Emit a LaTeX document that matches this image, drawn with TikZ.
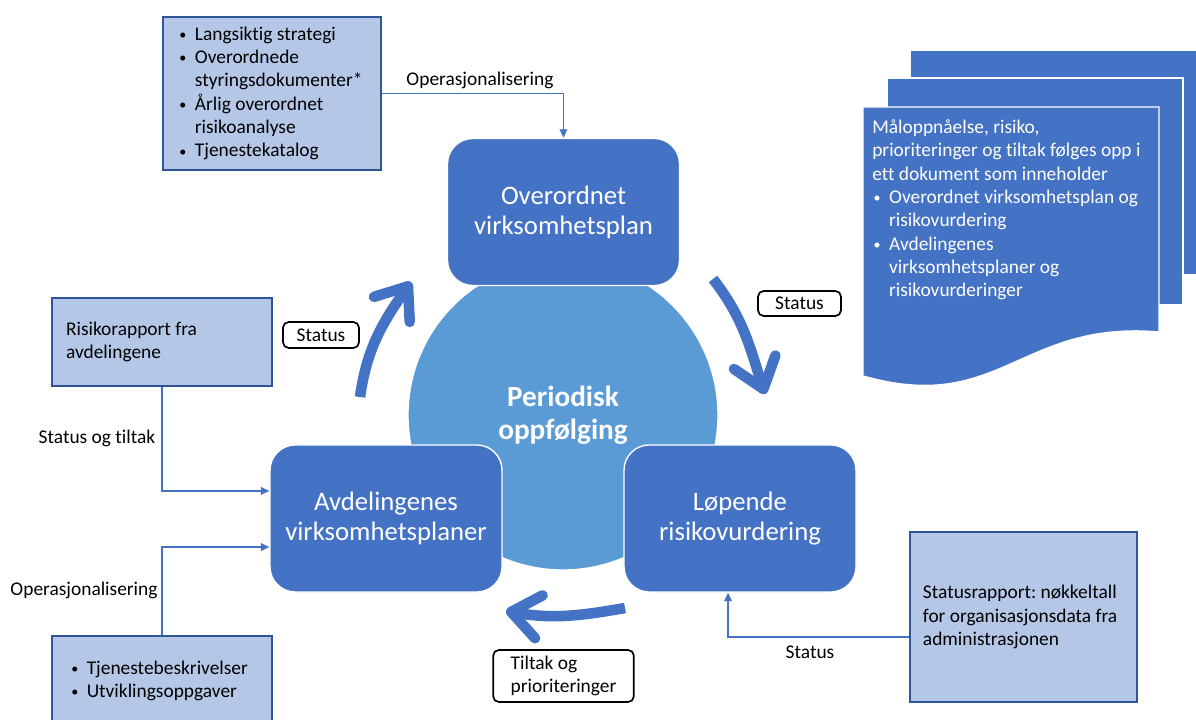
\documentclass[tikz,border=0pt]{standalone}
\usepackage{fontspec}
\setmainfont{Carlito}[Ligatures=NoCommon]
\usetikzlibrary{arrows.meta}
\definecolor{planblue}{HTML}{4472C4}
\definecolor{hubblue}{HTML}{5B9BD5}
\definecolor{notefill}{HTML}{B4C7E7}
\definecolor{noteedge}{HTML}{2F5597}
\frenchspacing
\newcommand{\bul}{\makebox[12pt][l]{\hspace{1pt}\raisebox{0.6pt}{\fontsize{10}{10}\selectfont\textbullet}}}
\newcommand{\ind}{\hspace*{12pt}}
\newcommand{\smalltxt}{\fontsize{13.8}{16.6}\selectfont}
\newcommand{\bigtxt}{\fontsize{19}{21.3}\selectfont}
\tikzset{
    notebox/.style={draw=noteedge,line width=1.4pt,fill=notefill,font=\smalltxt,align=flush left},
    planbox/.style={rounded corners=18pt,fill=planblue,draw=white,line width=1pt,text=white,
        minimum width=165pt,minimum height=104.6pt,align=center,font=\bigtxt},
    tagbox/.style={draw=black,rounded corners=4pt,line width=1.2pt,fill=white,font=\smalltxt,align=left},
    lbl/.style={font=\smalltxt},
    link/.style={draw=planblue,line width=0.8pt,-{Triangle[length=6pt,width=5.5pt]}},
    cyclearrow/.style={draw=planblue,line width=7.5pt,-{Straight Barb[round,length=20pt,width=31pt]}},
    docpage/.style={fill=planblue,draw=white,line width=1pt}
}
\begin{document}
\begin{tikzpicture}[x=0.025cm,y=-0.025cm]
                    \clip (0,0) rectangle (1196,720);
                    \fill[white] (0,0) rectangle (1196,720);

                    \node[circle,fill=hubblue,draw=white,line width=1pt,minimum size=220.5pt,
                        text=white,align=center,font=\fontsize{20.8}{23.5}\selectfont\bfseries]
                        (hub) at (563,415) {Periodisk\\oppfølging};

                    \node[planbox] (plan) at (563.5,212) {Overordnet\\virksomhetsplan};
                    \node[planbox] (avd) at (386,518.5) {Avdelingenes\\virksomhetsplaner};
                    \node[planbox] (risk) at (740,518.5) {Løpende\\risikovurdering};

                    \node[notebox,text width=133.6pt,inner xsep=10.7pt,minimum height=108.8pt]
                        (strat) at (272,93.5) {\bul Langsiktig strategi\\\bul Overordnede\\\ind styringsdokumenter*\\\bul Årlig overordnet\\\ind risikoanalyse\\\bul Tjenestekatalog};
                    \node[notebox,text width=136.5pt,inner xsep=10pt,minimum height=62.6pt]
                        (report) at (162,342) {Risikorapport fra\\avdelingene};
                    \node[notebox,text width=131pt,inner xsep=12.8pt,minimum height=64pt]
                        (tasks) at (162,681) {\bul Tjenestebeskrivelser\\\bul Utviklingsoppgaver};
                    \node[notebox,text width=143pt,inner xsep=9.2pt,minimum height=121pt]
                        (figures) at (1023.5,617) {Statusrapport: nøkkeltall\\for organisasjonsdata fra\\administrasjonen};

                    \filldraw[docpage] (910,50) rectangle (1200,275);
                    \filldraw[docpage] (887,78) rectangle (1183,305);
                    \filldraw[docpage] (863,107) -- (1159,107) -- (1159,332)
                        .. controls (1020,320) and (1000,415) .. (863,376) -- cycle;
                    \node[anchor=west,text width=205pt,inner sep=0pt,text=white,font=\smalltxt,align=flush left]
                        (doc) at (872,210) {Måloppnåelse, risiko,\\prioriteringer og tiltak følges opp i\\ett dokument som inneholder\\\bul Overordnet virksomhetsplan og\\\ind risikovurdering\\\bul Avdelingenes\\\ind virksomhetsplaner og\\\ind risikovurderinger};

                    \node[tagbox,minimum width=54pt,minimum height=18.5pt,align=center] (st1) at (321,335) {Status};
                    \node[tagbox,minimum width=59pt,minimum height=17.8pt,align=center] (st2) at (799.5,303.5) {Status};
                    \node[tagbox,minimum width=100pt,minimum height=37pt] (prio) at (563.5,676) {Tiltak og\\prioriteringer};

                    \node[lbl] (op1) at (480,80) {Operasjonalisering};
                    \node[lbl] (stt) at (97,438) {Status og tiltak};
                    \node[lbl] (op2) at (84,590) {Operasjonalisering};
                    \node[lbl] (st3) at (810,652) {Status};

                    \draw[link] (strat.east) -| (plan.north);
                    \draw[link] (report.south) |- ([yshift=19.6pt]avd.west);
                    \draw[link] (tasks.north) |- ([yshift=-20.3pt]avd.west);
                    \draw[link] ([yshift=-14.2pt]figures.west) -| ([xshift=-8.5pt]risk.south);

                    \coordinate (up0) at (360,397);
                    \coordinate (up1) at (411,282);
                    \coordinate (down0) at (713,279);
                    \coordinate (down1) at (765,394);
                    \coordinate (back0) at (625,608);
                    \coordinate (back1) at (506,611);
                    \draw[cyclearrow] (up0) to[out=82,in=235] (up1);
                    \draw[cyclearrow] (down0) to[out=-52,in=108] (down1);
                    \draw[cyclearrow] (back0) to[out=190,in=-10] (back1);
                \end{tikzpicture}
\end{document}
